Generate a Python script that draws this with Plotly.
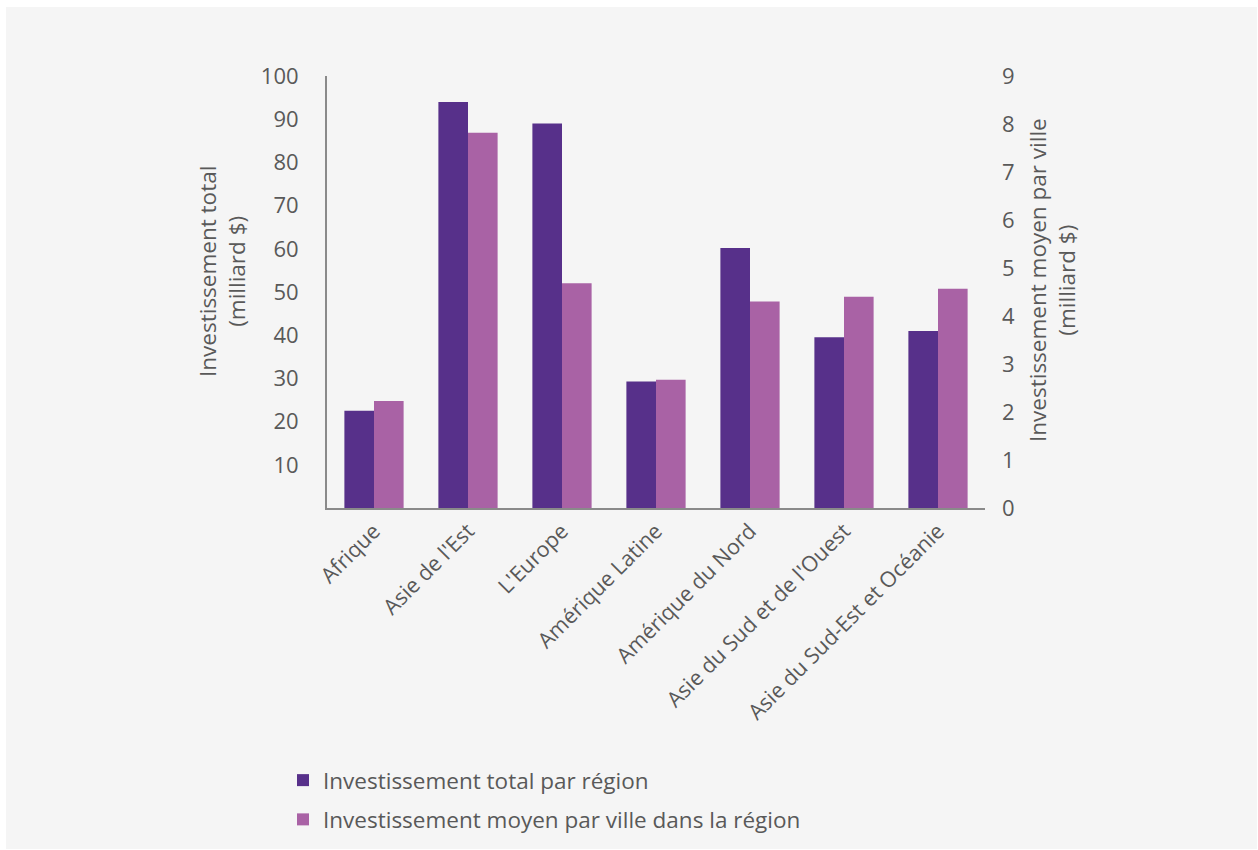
import plotly.graph_objects as go

regions = ["Afrique", "Asie de l'Est", "L'Europe", "Amérique Latine",
           "Amérique du Nord", "Asie du Sud et de l'Ouest",
           "Asie du Sud-Est et Océanie"]
total_par_region = [22.5, 94, 89, 29.3, 60.2, 39.5, 41]
moyen_par_ville = [2.23, 7.82, 4.68, 2.67, 4.3, 4.4, 4.57]

left_ticks = [10, 20, 30, 40, 50, 60, 70, 80, 90, 100]
right_ticks = [0, 1, 2, 3, 4, 5, 6, 7, 8, 9]

FONT = "Open Sans"
TXT = "#595959"
BG = "#f5f5f5"

fig = go.Figure()
fig.add_trace(go.Bar(
    x=regions, y=total_par_region, name="Investissement total par région",
    marker=dict(color="#57308a", line=dict(width=0)), offsetgroup=1, yaxis="y",
    legendgroup="total",
))
fig.add_trace(go.Bar(
    x=regions, y=moyen_par_ville, name="Investissement moyen par ville dans la région",
    marker=dict(color="#a962a5", line=dict(width=0)), offsetgroup=2, yaxis="y2",
    legendgroup="moyen",
))

W, H = 1258, 850
L, R, T, B = 327, 985, 76, 508
pw, ph = R - L, B - T

def px(x):
    return (x - L) / pw

def py(y):
    return (B - y) / ph

fig.update_layout(
    width=W, height=H,
    margin=dict(l=L, r=W - R, t=T, b=H - B, autoexpand=False),
    paper_bgcolor="white", plot_bgcolor=BG,
    font=dict(family=FONT, color=TXT, size=22),
    barmode="group", bargap=0.37, bargroupgap=0,
    showlegend=True,
    legend=dict(x=px(283), y=py(759), xanchor="left", yanchor="top",
                orientation="v", bgcolor="rgba(0,0,0,0)",
                font=dict(size=22.5, color=TXT), tracegroupgap=7,
                traceorder="grouped", itemwidth=30),
    xaxis=dict(showline=True, linecolor="#8a8a8a", linewidth=2,
               tickangle=-45, tickfont=dict(size=21.5, color=TXT),
               showgrid=False, ticks="", automargin=False),
    yaxis=dict(range=[0, 100], tickvals=left_ticks, showgrid=False,
               zeroline=False, showline=True, linecolor="#8a8a8a", linewidth=2,
               tickfont=dict(size=22, color=TXT), ticklabelstandoff=22,
               automargin=False),
    yaxis2=dict(range=[0, 9], tickvals=right_ticks, overlaying="y", side="right",
                showgrid=False, zeroline=False, showline=False,
                tickfont=dict(size=22, color=TXT), ticklabelstandoff=16,
                automargin=False),
    shapes=[dict(type="rect", xref="paper", yref="paper",
                 x0=px(6), x1=px(1257), y0=py(849), y1=py(7),
                 fillcolor=BG, line=dict(width=0), layer="below")],
    annotations=[
        dict(text="Investissement total<br>(milliard $)", textangle=-90,
             xref="paper", yref="paper", x=px(222), y=py(272),
             xanchor="center", yanchor="middle", showarrow=False,
             font=dict(size=22.5, color=TXT)),
        dict(text="Investissement moyen par ville<br>(milliard $)", textangle=-90,
             xref="paper", yref="paper", x=px(1052), y=py(280),
             xanchor="center", yanchor="middle", showarrow=False,
             font=dict(size=22.5, color=TXT)),
    ],
)

fig.write_html("out.html")
